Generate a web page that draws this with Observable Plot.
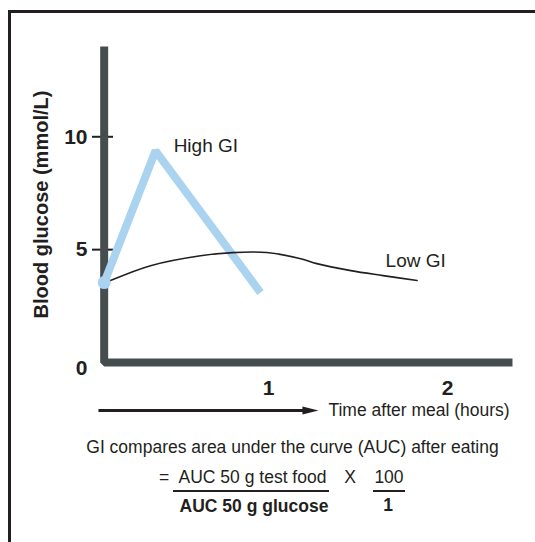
<!DOCTYPE html>
<html><head><meta charset="utf-8">
<script src="https://cdn.jsdelivr.net/npm/d3@7"></script>
<script src="https://cdn.jsdelivr.net/npm/@observablehq/plot@0.6"></script>
<style>
body{margin:0;background:#fff;font-family:"Liberation Sans",Arial,sans-serif;color:#231f20}
#wrap{position:relative;width:535px;height:542px;overflow:hidden;background:#fff}
#frame{position:absolute;left:8px;top:10px;width:700px;height:700px;border-top:3px solid #231f20;border-left:3px solid #231f20;box-sizing:border-box}
#chart{position:absolute;left:0;top:0}
.t{position:absolute;white-space:nowrap;text-align:center;width:300px;line-height:20px;height:20px;font-size:17.5px}
.b{font-weight:bold}
.bar{position:absolute;height:2.5px;background:#231f20}
</style></head><body>
<div id="wrap">
  <div id="frame"></div>
  <div id="chart"></div>
  <div class="t" style="left:62.5px;width:460px;top:437px">GI compares area under the curve (AUC) after eating</div>
  <div class="t" style="left:159px;top:467px;width:auto;text-align:left">=</div>
  <div class="t" style="left:102.5px;top:467px">AUC 50 g test food</div>
  <div class="bar" style="left:173px;top:489.5px;width:156px"></div>
  <div class="t b" style="left:104px;top:496px">AUC 50 g glucose</div>
  <div class="t" style="left:200px;top:467px">X</div>
  <div class="t" style="left:239px;top:467px">100</div>
  <div class="bar" style="left:373px;top:489.5px;width:32px"></div>
  <div class="t b" style="left:238px;top:495px">1</div>
</div>
<script>
// Time (hours) and blood glucose (mmol/L)
const highGI_t = [0.082, 0.369, 0.955];
const highGI_v = [3.54, 9.38, 3.10];
const lowGI_t = [0.117, 0.341, 0.62, 0.80, 0.99, 1.18, 1.27, 1.46, 1.64, 1.83];
const lowGI_v = [3.63, 4.29, 4.73, 4.87, 4.87, 4.60, 4.38, 4.07, 3.85, 3.63];
const seriesNames = ["High GI", "Low GI"];
const labelT = [0.47, 1.654];
const labelV = [9.6, 4.51];
const yTicks = [0, 5, 10];
const xTicks = [1, 2];
const axisT = [0.082, 0.082, 2.363];
const axisV = [14, 0, 0];
const arrowFrom = 0.05, arrowTo = 1.279;
const xTitle = "Time after meal (hours)";
const yTitle = "Blood glucose (mmol/L)";

const highGI = highGI_t.map((t, i) => ({t, v: highGI_v[i]}));
const lowGI = lowGI_t.map((t, i) => ({t, v: lowGI_v[i]}));
const axisPts = axisT.map((t, i) => ({t, v: axisV[i]}));
const labels = seriesNames.map((name, i) => ({name, t: labelT[i], v: labelV[i]}));

const ink = "#231f20";
const head = {draw(ctx) { ctx.moveTo(0, 0); ctx.lineTo(-16, -4); ctx.lineTo(-16, 4); ctx.closePath(); }};

const chart = Plot.plot({
  width: 535,
  height: 425,
  marginTop: 46,
  marginBottom: 63,
  marginLeft: 113,
  marginRight: 0,
  style: {fontFamily: "'Liberation Sans', Arial, sans-serif", color: ink, background: "transparent"},
  x: {domain: [0, 2], range: [89, 447]},
  y: {domain: [0, 14]},
  marks: [
    Plot.axisY({ticks: yTicks.filter(d => d > 0), tickSize: 21, tickPadding: 5, strokeWidth: 2, fontSize: 21, fontWeight: "bold",
      tickFormat: d => String(d), label: null}),
    Plot.text([yTitle], {frameAnchor: "left", dx: -72, rotate: -90, textAnchor: "middle", fontSize: 20, fontWeight: "bold", fill: ink}),
    Plot.text(yTicks.filter(d => d === 0), {y: d => d, text: d => String(d), frameAnchor: "left", dx: -26, dy: 6, textAnchor: "end", fontSize: 21, fontWeight: "bold", fill: ink}),
    Plot.axisX({ticks: xTicks, tickSize: 0, tickPadding: 18, fontSize: 21, fontWeight: "bold", tickFormat: d => String(d), label: null}),
    Plot.line(axisPts, {x: "t", y: "v", stroke: "#464d4f", strokeWidth: 8, strokeLinejoin: "miter", strokeLinecap: "butt"}),
    Plot.line(highGI, {x: "t", y: "v", stroke: "#a9d3ef", strokeWidth: 8, strokeLinejoin: "miter", strokeLinecap: "butt"}),
    Plot.line(lowGI, {x: "t", y: "v", stroke: ink, strokeWidth: 1.6, curve: "catmull-rom"}),
    Plot.dot(highGI.slice(0, 1), {x: "t", y: "v", r: 6.5, fill: "#a9d3ef", stroke: "none"}),
    Plot.text(labels, {x: "t", y: "v", text: "name", textAnchor: "start", fontSize: 19, fill: ink}),
    Plot.link([0], {x1: arrowFrom, x2: arrowTo - 0.045, y1: 0, y2: 0, dy: 48, stroke: ink, strokeWidth: 3}),
    Plot.dot([0], {x: arrowTo, y: 0, dy: 48, symbol: head, r: 5, fill: ink, stroke: "none"}),
    Plot.text([xTitle], {x: arrowTo, y: 0, dy: 48, dx: 10, textAnchor: "start", fontSize: 17.5, fill: ink})
  ]
});
document.getElementById("chart").appendChild(chart);
</script>
</body></html>
